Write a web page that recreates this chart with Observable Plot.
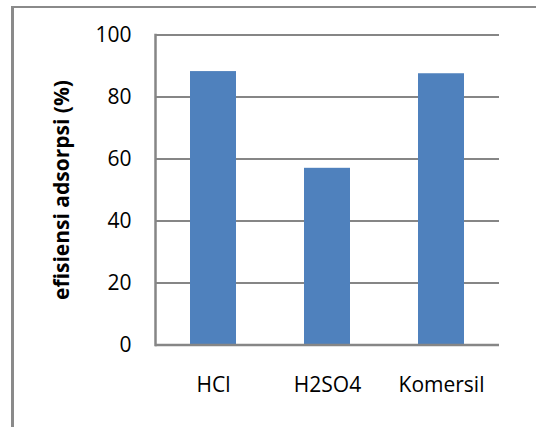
<!DOCTYPE html>
<html>
<head>
<meta charset="utf-8">
<script src="https://cdn.jsdelivr.net/npm/d3@7"></script>
<script src="https://cdn.jsdelivr.net/npm/@observablehq/plot@0.6"></script>
<style>
  html, body { margin: 0; padding: 0; background: #fff; }
  #chart { position: relative; width: 536px; height: 427px; overflow: hidden; }
  #border {
    position: absolute; left: 11px; top: 6px; width: 600px; height: 600px;
    border-left: 3px solid #8a8a8a; border-top: 2px solid #8a8a8a; box-sizing: border-box;
  }
  #chart svg { position: absolute; left: 0; top: 0; }
</style>
</head>
<body>
<div id="chart"><div id="border"></div></div>
<script>
// Adsorption efficiency per activating agent
const agents = ["HCl", "H2SO4", "Komersil"];
const efficiency = [88.2, 57.0, 87.5];
const yTicks = [0, 20, 40, 60, 80, 100];

const rows = agents.map((agent, i) => ({agent, value: efficiency[i]}));
const font = "'Open Sans', sans-serif";

const plot = Plot.plot({
  width: 536,
  height: 427,
  marginLeft: 155,
  marginRight: 37,
  marginTop: 34.5,
  marginBottom: 82.5,
  style: {fontFamily: font, fontSize: "21px", color: "#000", background: "transparent"},
  x: {domain: agents, paddingInner: 0.6, paddingOuter: 0.3, label: null},
  y: {domain: [0, 100], ticks: yTicks, label: null},
  marks: [
    Plot.gridY(yTicks.filter(d => d > 0), {stroke: "#868686", strokeOpacity: 1, strokeWidth: 2}),
    Plot.barY(rows, {x: "agent", y: "value", fill: "#4F81BD"}),
    Plot.ruleY([0], {stroke: "#868686", strokeWidth: 2.5}),
    Plot.frame({anchor: "left", stroke: "#868686", strokeWidth: 2.5}),
    Plot.axisY({ticks: yTicks, tickSize: 0, tickPadding: 24, fontSize: 21, label: null}),
    Plot.axisX({tickSize: 0, tickPadding: 32, fontSize: 21, label: null}),
    Plot.text(["efisiensi adsorpsi (%)"], {
      frameAnchor: "left", textAnchor: "middle", dx: -93, rotate: -90,
      fontWeight: "bold", fontSize: 21, fill: "#000"
    })
  ]
});

document.getElementById("chart").appendChild(plot);
</script>
</body>
</html>
